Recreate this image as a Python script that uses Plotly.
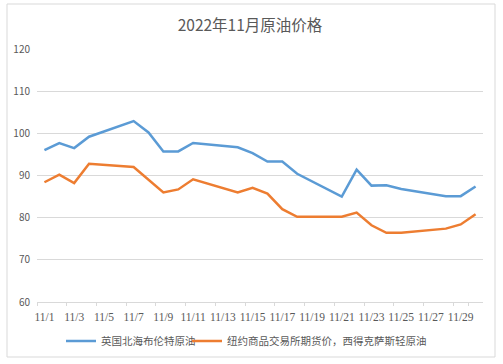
import plotly.graph_objects as go

dates = [f"11/{d}" for d in range(1, 31)]
# None = no trading that day (weekends); line is connected across gaps
brent = [96.0, 97.7, 96.5, 99.2, None, None, 102.9, 100.2, 95.7, 95.7,
         97.7, None, None, 96.7, 95.3, 93.3, 93.3, 90.4, None, None,
         85.0, 91.4, 87.6, 87.7, 86.8, None, None, 85.1, 85.1, 87.4]
wti = [88.4, 90.2, 88.2, 92.8, None, None, 92.0, 89.0, 86.0, 86.7,
       89.1, None, None, 86.0, 87.1, 85.7, 82.0, 80.2, None, None,
       80.2, 81.2, 78.2, 76.4, 76.4, None, None, 77.4, 78.4, 80.8]
tick_labels = [f"11/{d}" for d in range(1, 31, 2)]

fig = go.Figure()
fig.add_trace(go.Scatter(x=dates, y=brent, mode="lines", name="英国北海布伦特原油",
                         line=dict(color="#5b9bd5", width=2.5), connectgaps=True,
                         legend="legend"))
fig.add_trace(go.Scatter(x=dates, y=wti, mode="lines", name="纽约商品交易所期货价，西得克萨斯轻原油",
                         line=dict(color="#ed7d31", width=2.5), connectgaps=True,
                         legend="legend2"))

font = "Noto Sans CJK SC, Noto Sans, sans-serif"
W, H = 503, 364
leg_common = dict(orientation="h", xanchor="left", xref="container",
                  y=0.063, yanchor="middle", yref="container",
                  font=dict(size=10.5, color="#595959"), itemwidth=30,
                  bgcolor="rgba(0,0,0,0)")
fig.update_layout(
    width=W, height=H,
    margin=dict(l=37, r=20, t=49, b=62, autoexpand=False),
    paper_bgcolor="white", plot_bgcolor="white",
    font=dict(family=font, color="#595959", size=10),
    title=dict(text="2022年11月原油价格", x=0.497, xanchor="center", y=0.93, yanchor="middle",
               font=dict(size=15.5, color="#595959", family=font)),
    showlegend=True,
    legend=dict(x=61 / W, **leg_common),
    legend2=dict(x=187 / W, **leg_common),
    xaxis=dict(type="category", range=[-0.5, 29.5], tickmode="array",
               tickvals=tick_labels, ticktext=tick_labels, tickangle=0, automargin=False,
               showgrid=False, showline=True, linecolor="#d9d9d9", linewidth=1,
               ticks="outside", ticklen=3, tickcolor="#d9d9d9", tickson="boundaries",
               ticklabelstandoff=4,
               tickfont=dict(size=11.5, color="#595959", family="Liberation Serif, serif"),
               zeroline=False),
    yaxis=dict(range=[60, 120], dtick=10, showgrid=True, gridcolor="#d9d9d9", gridwidth=1,
               showline=False, zeroline=False, ticks="", ticklabelstandoff=6, automargin=False,
               tickfont=dict(size=10, color="#595959")),
    shapes=[dict(type="rect", xref="paper", yref="paper",
                 x0=(7 - 37) / 446, x1=(495 - 37) / 446,
                 y0=-(357 - 302) / 253, y1=(302 - 4) / 253,
                 line=dict(color="#d9d9d9", width=1), layer="below")],
)
fig.write_html("out.html", config={"displayModeBar": False},
               post_script="document.body.style.margin='0';")
